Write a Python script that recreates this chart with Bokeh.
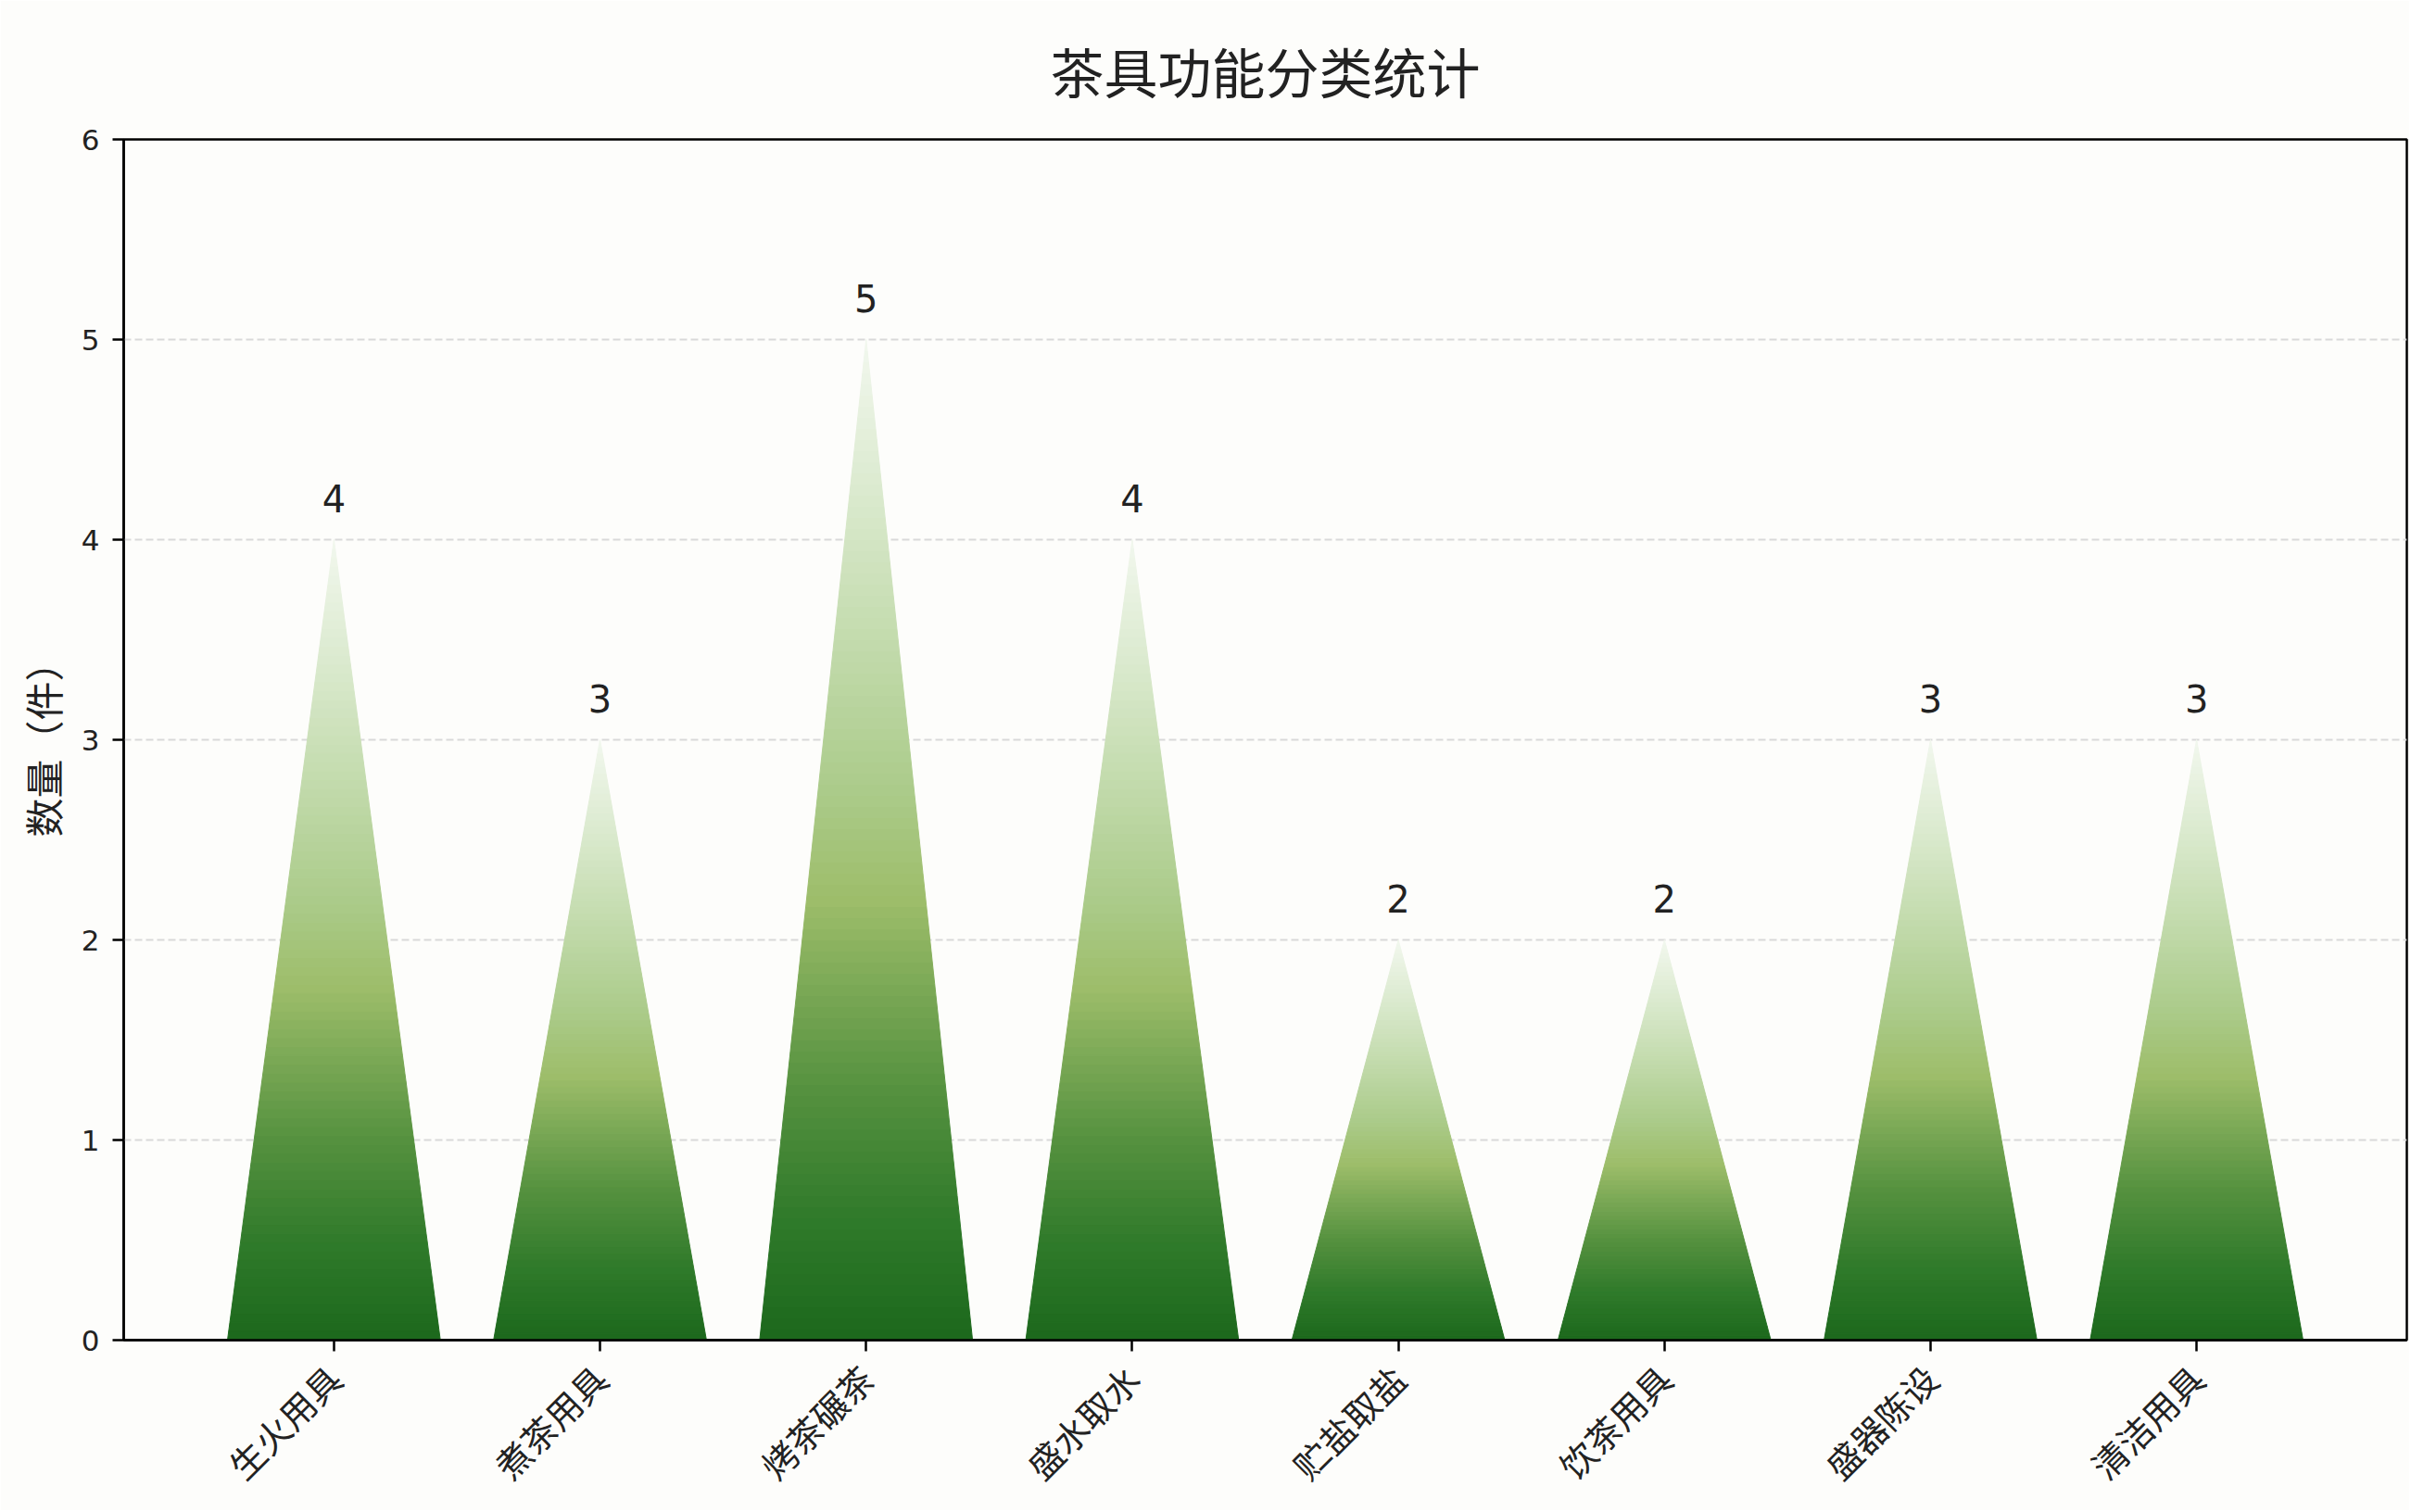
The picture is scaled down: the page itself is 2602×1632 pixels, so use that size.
import math
from bokeh.plotting import figure
from bokeh.models import Range1d, FixedTicker, ColumnDataSource
from bokeh.core.properties import value
from bokeh.embed import file_html
from bokeh.resources import INLINE

# ---- data ----
categories = ["生火用具", "煮茶用具", "烤茶碾茶", "盛水取水", "贮盐取盐", "饮茶用具", "盛器陈设", "清洁用具"]
counts = [4, 3, 5, 4, 2, 2, 3, 3]
y_ticks = [0, 1, 2, 3, 4, 5, 6]
title_text = "茶具功能分类统计"
y_label = "数量（件）"

# ---- gradient stops (fraction of peak height from base, colour) ----
stop_pos = [0.00, 0.12, 0.25, 0.35, 0.44, 0.55, 0.70, 0.85, 1.00]
stop_col = ["#1c681c", "#2f7a2a", "#55913f", "#7aa855", "#9dbd6a",
            "#abcb8a", "#c3dbad", "#dbeacf", "#f2f7ee"]


def hex2rgb(h):
    h = h.lstrip("#")
    return tuple(int(h[i:i + 2], 16) for i in (0, 2, 4))


def grad(t):
    for j in range(len(stop_pos) - 1):
        if stop_pos[j] <= t <= stop_pos[j + 1]:
            f = (t - stop_pos[j]) / (stop_pos[j + 1] - stop_pos[j])
            a, b = hex2rgb(stop_col[j]), hex2rgb(stop_col[j + 1])
            c = [round(a[k] + (b[k] - a[k]) * f) for k in range(3)]
            return "#%02x%02x%02x" % tuple(c)
    return stop_col[-1]


half = 0.4
N = 90
xs, ys, cols = [], [], []
for i, h in enumerate(counts):
    for k in range(N):
        t0, t1 = k / N, (k + 1) / N
        y0, y1 = h * t0, h * t1
        w0, w1 = half * (1 - t0), half * (1 - t1)
        xs.append([i - w0, i + w0, i + w1, i - w1])
        ys.append([y0, y0, y1, y1])
        cols.append(grad((t0 + t1) / 2))

src = ColumnDataSource(dict(xs=xs, ys=ys, c=cols))

bg = "#fdfdfb"
W, H = 2600, 1630
p = figure(width=W, height=H, output_backend="svg", toolbar_location=None,
           x_range=Range1d(-0.79, 7.79), y_range=Range1d(0, 6),
           min_border_left=133, min_border_right=W - 2597, min_border_top=150,
           min_border_bottom=H - 1446,
           background_fill_color=bg, border_fill_color=bg, title=title_text)

p.title.text_font = "Noto Sans CJK SC"
p.title.text_font_size = "58px"
p.title.text_font_style = "normal"
p.title.text_color = "#222222"
p.title.align = "center"
p.title.vertical_align = "top"
p.title.standoff = 62

p.outline_line_color = "black"
p.outline_line_width = 2.5
p.outline_line_alpha = 1.0

p.patches("xs", "ys", source=src, fill_color="c", line_color="c", line_width=1.0)

# value labels
lab = ColumnDataSource(dict(x=list(range(len(counts))), y=counts, t=[str(v) for v in counts]))
p.text("x", "y", text="t", source=lab, text_align="center", text_baseline="alphabetic",
       y_offset=-45, text_font=value("DejaVu Sans"), text_font_size="40px", text_color="#222222")

# axes
p.xaxis.ticker = FixedTicker(ticks=list(range(len(categories))))
p.xaxis.major_label_overrides = {i: c for i, c in enumerate(categories)}
p.xaxis.major_label_orientation = math.pi / 4
p.xaxis.major_label_text_font = "Noto Sans CJK SC"
p.xaxis.major_label_text_font_size = "38px"
p.xaxis.major_label_standoff = 22

p.yaxis.ticker = FixedTicker(ticks=y_ticks)
p.yaxis.major_label_text_font = "DejaVu Sans"
p.yaxis.major_label_text_font_size = "31px"
p.yaxis.major_label_standoff = 14
p.yaxis.axis_label = y_label
p.yaxis.axis_label_text_font = "Noto Sans CJK SC"
p.yaxis.axis_label_text_font_size = "42px"
p.yaxis.axis_label_text_font_style = "normal"
p.yaxis.axis_label_standoff = 9
p.yaxis.axis_label_text_color = "#222222"

for ax in (p.xaxis, p.yaxis):
    ax.axis_line_color = "black"
    ax.axis_line_width = 2.5
    ax.major_tick_line_color = "black"
    ax.major_tick_line_width = 2.5
    ax.major_tick_out = 12
    ax.major_tick_in = 0
    ax.minor_tick_line_color = None
    ax.major_label_text_color = "#222222"

p.xgrid.visible = False
p.ygrid.grid_line_color = "#d9d9d9"
p.ygrid.grid_line_dash = "8 4"
p.ygrid.grid_line_width = 2

open("out.html", "w").write(file_html(p, INLINE))
